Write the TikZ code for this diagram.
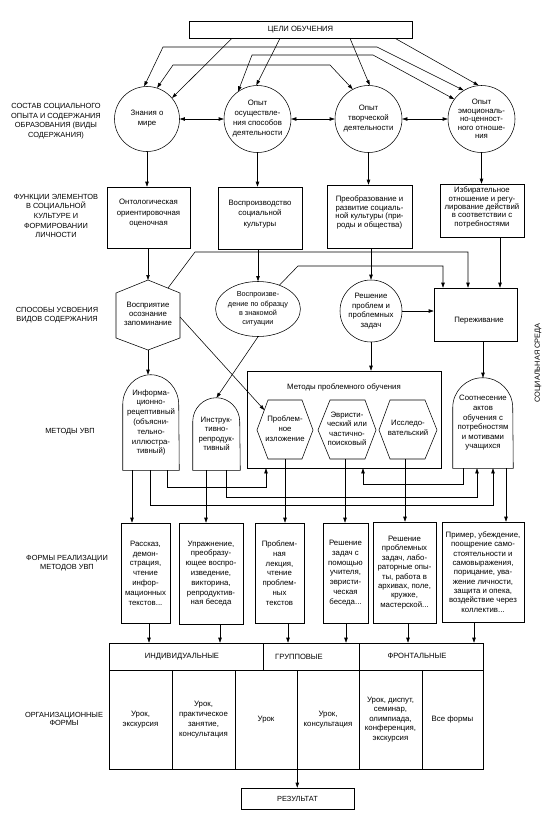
\documentclass[tikz,border=0pt]{standalone}
\usepackage{fontspec}
\setmainfont{Liberation Sans}
\usetikzlibrary{arrows.meta,shapes.geometric}
\begin{document}
\begin{tikzpicture}[x=1pt,y=-1pt,line width=0.55pt,
  arr/.style={-{Triangle[length=5pt,width=3.4pt]}},
  darr/.style={{Triangle[length=5pt,width=3.4pt]}-{Triangle[length=5pt,width=3.4pt]}},
  fs/.style={font=\fontsize{7.8}{#1}\selectfont, align=center},
  boxnode/.style={draw, align=center, inner sep=0pt},
  lab/.style={font=\fontsize{7.4}{9.6}\selectfont, align=center},
  capsf/.style={font=\fontsize{7.6}{9}\selectfont},
  cell/.style={draw, inner sep=0pt, align=center}
]
\useasboundingbox (0,0) rectangle (553,815);
\fill[white] (0,0) rectangle (553,815);

% ---------- title
\node[boxnode, minimum width=223, minimum height=17, capsf] (goal) at (300.5,29.5) {ЦЕЛИ ОБУЧЕНИЯ};

% ---------- left labels
\node[lab] (L1) at (56,121) {СОСТАВ СОЦИАЛЬНОГО\\ОПЫТА И СОДЕРЖАНИЯ\\ОБРАЗОВАНИЯ (ВИДЫ\\СОДЕРЖАНИЯ)};
\node[lab] (L2) at (56,216) {ФУНКЦИИ ЭЛЕМЕНТОВ\\В СОЦИАЛЬНОЙ\\КУЛЬТУРЕ И\\ФОРМИРОВАНИИ\\ЛИЧНОСТИ};
\node[lab] (L3) at (57,315) {СПОСОБЫ УСВОЕНИЯ\\ВИДОВ СОДЕРЖАНИЯ};
\node[lab] (L4) at (70,432) {МЕТОДЫ УВП};
\node[lab] (L5) at (67,563) {ФОРМЫ РЕАЛИЗАЦИИ\\МЕТОДОВ УВП};
\node[font=\fontsize{7.4}{8.6}\selectfont, align=center] (L6) at (64,719) {ОРГАНИЗАЦИОННЫЕ\\ФОРМЫ};
\node[lab, rotate=90] (L7) at (538,363) {СОЦИАЛЬНАЯ СРЕДА};

% ---------- kinds of content (circles)
\node[circle, draw, minimum size=65, inner sep=0, fs=10] (c1) at (147,119) {Знания о\\мире};
\node[circle, draw, minimum size=67, inner sep=0, fs=10] (c2) at (257.5,119) {Опыт\\осуществле-\\ния способов\\деятельности};
\node[circle, draw, minimum size=67, inner sep=0, fs=10] (c3) at (368.5,119) {Опыт\\творческой\\деятельности};
\node[circle, draw, minimum size=67, inner sep=0, fs=8.6] (c4) at (481.5,119) {Опыт\\эмоциональ-\\но-ценност-\\ного отноше-\\ния};

\draw[darr] (c1) -- (c2);
\draw[darr] (c2) -- (c3);
\draw[darr] (c3) -- (c4);

% goals -> circles
\draw[arr] (goal.south -| 232,0) -- (c1.40);
\draw[arr] (goal.south -| 280,0) -- (c2.92);
\draw[arr] (goal.south -| 350,0) -- (c3.88);
\draw[arr] (goal.south -| 395,0) -- (c4.95);
\draw[darr] (c1.95) -- (163,47) -- (377,47) -- (c4.122);
\draw[darr] (c2.125) -- (252,55) -- (373,55) -- (c4.144);
\draw[darr] (c1.72) -- (173,65) -- (330,65) -- (c3.118);

% ---------- functions
\node[draw, minimum width=83, minimum height=61, inner sep=0] (f1) at (148.5,217.5) {};
\node[draw, minimum width=84, minimum height=62, inner sep=0] (f2) at (260,218) {};
\node[draw, minimum width=85, minimum height=63, inner sep=0] (f3) at (369.5,216.5) {};
\node[draw, minimum width=84, minimum height=53, inner sep=0] (f4) at (482,210.5) {};
\node[fs=10.5, yshift=4pt] (f1t) at (f1) {Онтологическая\\ориентировочная\\оценочная};
\node[fs=10.5, yshift=4pt] (f2t) at (f2) {Воспроизводство\\социальной\\культуры};
\node[fs=8.4, yshift=4pt] (f3t) at (f3) {Преобразование и\\развитие социаль-\\ной культуры (при-\\роды и общества)};
\node[fs=8.4, yshift=3pt] (f4t) at (f4) {Избирательное\\отношение и регу-\\лирование действий\\в соответствии с\\потребностями};

\draw[arr] (c1.south) -- (c1.south |- f1.north);
\draw[arr] (c2.south) -- (c2.south |- f2.north);
\draw[arr] (c3.south) -- (c3.south |- f3.north);
\draw[arr] (c4.south) -- (c4.south |- f4.north);

% ---------- ways of acquisition
\coordinate (hT) at (148,280);
\coordinate (hUR) at (180,293);
\coordinate (hLR) at (180,338);
\coordinate (hB) at (148,350);
\coordinate (hLL) at (116,338);
\coordinate (hUL) at (116,293);
\coordinate (hUR2) at (168,288);
\coordinate (hR) at (180,317);
\draw (hT) -- (hUR) -- (hLR) -- (hB) -- (hLL) -- (hUL) -- cycle;
\node[fs=9.3] (hA) at (148,314) {Восприятие\\осознание\\запоминание};

\node[ellipse, draw, minimum width=68, minimum height=55, inner sep=0, font=\fontsize{7.3}{9.4}\selectfont, align=center] (ell) at (258,309) {Воспроизве-\\дение по образцу\\в знакомой\\ситуации};
\node[circle, draw, minimum size=62, inner sep=0, fs=9.5] (r) at (371,311) {Решение\\проблем и\\проблемных\\задач};
\node[draw, minimum width=83, minimum height=53, inner sep=0] (per) at (475.5,314.5) {};
\node[fs=9] (pert) at (479,321) {Переживание};

\draw[arr] (f1.south -| hT) -- (hT);
\draw[arr] (f2.south -| ell.north) -- (ell.north);
\draw[arr] (f3.south -| r.north) -- (r.north);
\draw[arr] (f4.south -| 500,0) -- (per.north -| 500,0);
\draw[arr] (r.east) -- (r.east -| per.west);
\draw[arr] (hUR2) -- (195,252) -- (468,252) -- (per.north -| 468,0);
\draw[arr] (ell.48) -- (298,266) -- (443,266) -- (per.north -| 443,0);

% ---------- methods
\node[inner sep=0, minimum width=56, minimum height=95, fs=9.8] (info) at (151,422.5) {Информа-\\ционно-\\рецептивный\\(объясни-\\тельно-\\иллюстра-\\тивный)};
\draw (info.south west) -- ([yshift=-30pt]info.north west) arc[start angle=180,end angle=0,x radius=28pt,y radius=30pt] -- (info.south east) -- cycle;

\node[inner sep=0, minimum width=47, minimum height=72, fs=9.4] (instr) at (216.5,434) {Инструк-\\тивно-\\репродук-\\тивный};
\draw (instr.south west) -- ([yshift=-24pt]instr.north west) arc[start angle=180,end angle=0,x radius=23.5pt,y radius=24pt] -- (instr.south east) -- cycle;

\node[draw, minimum width=194, minimum height=97, inner sep=0] (mbox) at (344,419.5) {};
\node[fs=9] (mtitle) at (344,387) {Методы проблемного обучения};

\draw (257,430) -- (268,400) -- (302,400) -- (313,430) -- (302,459) -- (268,459) -- cycle;
\node[fs=10] (pA) at (285,429) {Проблем-\\ное\\изложение};
\draw (318,430) -- (330,400) -- (365,400) -- (376,430) -- (365,459) -- (330,459) -- cycle;
\node[fs=9.5] (pB) at (347,429) {Эвристи-\\ческий или\\частично-\\поисковый};
\draw (379,430) -- (390,400) -- (425,400) -- (437,430) -- (425,459) -- (390,459) -- cycle;
\node[fs=10] (pC) at (408,428) {Исследо-\\вательский};
\coordinate (pAb) at (285,459);
\coordinate (pBb) at (345,459);
\coordinate (pCb) at (405,459);
\coordinate (pAul) at (264.3,410);

\node[inner sep=0, minimum width=60, minimum height=90, fs=9.6] (sootn) at (483,423) {Соотнесение\\актов\\обучения с\\потребностям\\и мотивами\\учащихся};
\draw (sootn.south west) -- ([yshift=-30pt]sootn.north west) arc[start angle=180,end angle=0,x radius=30pt,y radius=30pt] -- (sootn.south east) -- cycle;

\draw[arr] (hB) -- (hB |- info.north);
\draw[arr] (hR) -- (pAul);
\draw[arr] (ell.south) -- (instr.north);
\draw[arr] (r.south) -- (r.south |- mbox.north);
\draw[arr] (per.south -| sootn.north) -- (sootn.north);

% ---------- forms of realisation
\node[boxnode, minimum width=49, minimum height=100, fs=9.8] (F1) at (145.5,573) {Рассказ,\\демон-\\страция,\\чтение\\инфор-\\мационных\\текстов...};
\node[boxnode, minimum width=64, minimum height=101, fs=9.8] (F2) at (211,573.5) {Упражнение,\\преобразу-\\ющее воспро-\\изведение,\\викторина,\\репродуктив-\\ная беседа};
\node[boxnode, minimum width=49, minimum height=100, fs=9.8] (F3) at (279.5,573) {Проблем-\\ная\\лекция,\\чтение\\проблем-\\ных\\текстов};
\node[boxnode, minimum width=45, minimum height=100, fs=9.8] (F4) at (345.5,573) {Решение\\задач с\\помощью\\учителя,\\эвристи-\\ческая\\беседа...};
\node[boxnode, minimum width=63, minimum height=101, fs=9.4] (F5) at (404.5,572.5) {Решение\\проблемных\\задач, лабо-\\раторные опы-\\ты, работа в\\архивах, поле,\\кружке,\\мастерской...};
\node[boxnode, minimum width=82, minimum height=100, fs=9.3] (F6) at (483,572) {Пример, убеждение,\\поощрение само-\\стоятельности и\\самовыражения,\\порицание, ува-\\жение личности,\\защита и опека,\\воздействие через\\коллектив...};

\draw[arr] (info.south -| 132,0) -- (F1.north -| 132,0);
\draw[arr] (info.south -| 150,0) -- (150,505) -- (493,505) -- (sootn.south -| 493,0);
\draw[arr] (info.south -| 167,0) -- (167,487) -- (266,487) -- (mbox.south -| 266,0);
\draw[arr] (instr.south -| 206,0) -- (F2.north -| 206,0);
\draw[arr] (instr.south -| 226,0) -- (226,497) -- (477,497) -- (sootn.south -| 477,0);
\draw[arr] (pAb) -- (F3.north -| pAb);
\draw[arr] (pBb) -- (F4.north -| pBb);
\draw[arr] (pCb) -- (F5.north -| pCb);
\draw[arr] (sootn.south -| 463,0) -- (463,484) -- (363,484) -- (mbox.south -| 363,0);
\draw[arr] (sootn.south -| 506,0) -- (F6.north -| 506,0);

% ---------- organisational forms (table)
\node[cell, minimum width=154, minimum height=27] (hInd) at (186,656.5) {};
\node[cell, minimum width=96, minimum height=27] (hGr) at (311,656.5) {};
\node[cell, minimum width=124, minimum height=27] (hFr) at (421,656.5) {};
\node[capsf] (hIndt) at (182,657) {ИНДИВИДУАЛЬНЫЕ};
\node[capsf] (hGrt) at (299,657) {ГРУППОВЫЕ};
\node[capsf] (hFrt) at (417,655.5) {ФРОНТАЛЬНЫЕ};

\node[cell, minimum width=63, minimum height=99, fs=10] (t1) at (140.5,719.5) {Урок,\\экскурсия};
\node[cell, minimum width=63, minimum height=99, fs=10] (t2) at (203.5,719.5) {Урок,\\практическое\\занятие,\\консультация};
\node[cell, minimum width=62, minimum height=99, fs=10] (t3) at (266,719.5) {Урок};
\node[cell, minimum width=62, minimum height=99, fs=10] (t4) at (328,719.5) {Урок,\\консультация};
\node[cell, minimum width=63, minimum height=99, fs=9.6] (t5) at (390.5,719.5) {Урок, диспут,\\семинар,\\олимпиада,\\конференция,\\экскурсия};
\node[cell, minimum width=61, minimum height=99, fs=10] (t6) at (452.5,719.5) {Все формы};

\draw[arr] (F1.south -| 149,0) -- (hInd.north -| 149,0);
\draw[arr] (F2.south -| 220,0) -- (hInd.north -| 220,0);
\draw[arr] (F3.south -| 288,0) -- (hGr.north -| 288,0);
\draw[arr] (F4.south -| 346,0) -- (hGr.north -| 346,0);
\draw[arr] (F5.south -| 408,0) -- (hFr.north -| 408,0);
\draw[arr] (F6.south -| 474,0) -- (hFr.north -| 474,0);

% ---------- result
\node[boxnode, minimum width=113, minimum height=21, font=\fontsize{7.4}{9}\selectfont] (res) at (297.5,798.5) {РЕЗУЛЬТАТ};
\draw[arr] (t3.south east) -- (t3.south east |- res.north);
\end{tikzpicture}
\end{document}
